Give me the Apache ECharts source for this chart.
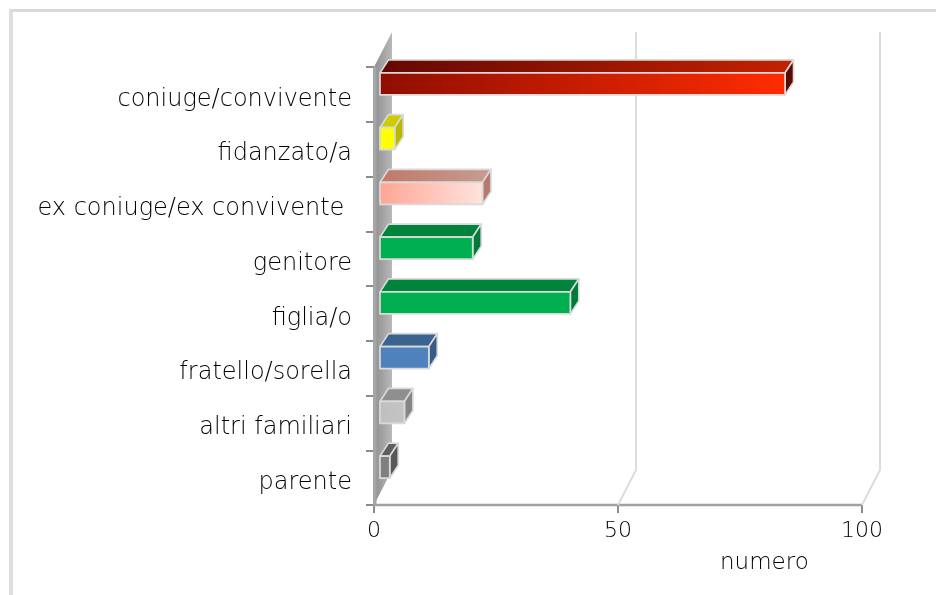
<!DOCTYPE html>
<html><head><meta charset="utf-8">
<style>
html,body{margin:0;padding:0;background:#fff;overflow:hidden}
#frame{position:absolute;left:9px;top:9px;width:927px;height:586px;box-sizing:border-box;border-left:4px solid #dedede;border-top:3px solid #d9d9d9}
#c{position:absolute;left:0;top:0;width:936px;height:595px}
</style></head><body>
<div id="frame"></div><div id="c"></div>
<script src="https://cdn.jsdelivr.net/npm/echarts@6/dist/echarts.min.js"></script>
<script>
const categories = ['coniuge/convivente','fidanzato/a','ex coniuge/ex convivente ','genitore','figlia/o','fratello/sorella','altri familiari','parente'];
const values = [83,3,21,19,39,10,5,2];
const frontStart = ['#8f0e00','#ffff00','#ffa594','#00b050','#00b050','#4f81bd','#bfbfbf','#7f7f7f'];
const frontEnd   = ['#ff2c00','#ffff00','#ffe3de','#00b050','#00b050','#4f81bd','#c4c4c4','#808080'];
const topStart   = ['#640800','#cccc00','#c07868','#00843c','#00843c','#3b6390','#8f8f8f','#5f5f5f'];
const topEnd     = ['#c42200','#cccc00','#c89c92','#00843c','#00843c','#3b6390','#8f8f8f','#5f5f5f'];
const sideColors = ['#5c0a00','#b8b800','#b47a6e','#007a38','#007a38','#365c88','#858585','#585858'];
const valueTicks = [0,50,100];
const axisTitle = 'numero';

const FONT = '"DejaVu Sans ExtraLight","DejaVu Sans Light","DejaVu Sans"';
const DEPTH_X = 18, DEPTH_Y = -35;   // wall depth
const BAR_X = 6, BAR_Y = -10.5;      // front face offset
const CAP_X = 8.5, CAP_Y = -13;      // bar depth
const BAR_H = 22;
const EDGE = {stroke:'#dadada', lineWidth:1.7, lineJoin:'round'};

const lin = (a,b) => new echarts.graphic.LinearGradient(0,0,1,0,[{offset:0,color:a},{offset:1,color:b}]);

function poly(points, fill, extra){
  return {type:'polygon', shape:{points}, style:Object.assign({fill}, extra||{})};
}

const chart = echarts.init(document.getElementById('c'), null, {renderer:'canvas'});
chart.setOption({
  animation:false,
  backgroundColor:'transparent',
  grid:{left:374, right:74, top:67, bottom:90, containLabel:false},
  xAxis:{type:'value', min:0, max:100, interval:50,
    axisLine:{show:false}, splitLine:{show:false},
    axisTick:{show:true, length:8, lineStyle:{color:'#8c8c8c', width:2}},
    axisLabel:{color:'#000', fontFamily:FONT, fontSize:22, fontWeight:200, margin:15, hideOverlap:false, showMinLabel:true, showMaxLabel:true}},
  yAxis:{type:'category', inverse:true, data:categories,
    axisLine:{show:false}, splitLine:{show:false},
    axisTick:{show:true, length:8, alignWithLabel:false, lineStyle:{color:'#8c8c8c', width:2}},
    axisLabel:{color:'#000', fontFamily:FONT, fontSize:24, fontWeight:200, margin:22, interval:0, verticalAlign:'top', lineHeight:10}},
  graphic:[{type:'text', left:720, top:552, silent:true,
    style:{text:axisTitle, fontFamily:FONT, fontSize:23, fontWeight:200, fill:'#000'}}],
  series:[
    { // side wall + floor line
      type:'custom', silent:true, z:1, data:[[0]],
      encode:{x:0},
      renderItem(p, api){
        const bottom = p.coordSys.y + p.coordSys.height;
        const top = p.coordSys.y;
        const x0 = p.coordSys.x;
        const xr = x0 + p.coordSys.width;
        return {type:'group', children:[
          poly([[x0,bottom],[x0+DEPTH_X,bottom+DEPTH_Y],[x0+DEPTH_X,top+DEPTH_Y],[x0,top]], new echarts.graphic.LinearGradient(0,0,1,0,[{offset:0,color:'#8f8f8f'},{offset:1,color:'#b8b8b8'}])),
          {type:'rect', shape:{x:x0-1,y:top,width:3.5,height:bottom-top}, style:{fill:'#a6a6a6'}},
          {type:'line', shape:{x1:x0-1,y1:bottom,x2:xr,y2:bottom}, style:{stroke:'#a0a0a0', lineWidth:2.5}}
        ]};
      }
    },
    { // grid lines on floor and back wall
      type:'custom', silent:true, z:1, data:valueTicks.slice(1).map(v=>[v]),
      encode:{x:0},
      renderItem(p, api){
        const x = api.coord([api.value(0), 0])[0];
        const bottom = p.coordSys.y + p.coordSys.height;
        const top = p.coordSys.y;
        return {type:'polyline', shape:{points:[[x,bottom],[x+DEPTH_X,bottom+DEPTH_Y],[x+DEPTH_X,top+DEPTH_Y]]},
          style:{fill:null, stroke:'#dcdcdc', lineWidth:2}};
      }
    },
    { // 3D bars
      type:'custom', z:3,
      data:values.map((v,i)=>[v,i]),
      encode:{x:0,y:1},
      renderItem(p, api){
        const i = api.value(1);
        const c = api.coord([api.value(0), i]);
        const c0 = api.coord([0, i]);
        const xl = c0[0]+BAR_X, xr = c[0]+BAR_X;
        const yc = c[1]+BAR_Y, yt = yc-BAR_H/2, yb = yc+BAR_H/2;
        return {type:'group', children:[
          poly([[xl,yt],[xr,yt],[xr+CAP_X,yt+CAP_Y],[xl+CAP_X,yt+CAP_Y]], lin(topStart[i],topEnd[i]), EDGE),
          poly([[xr,yt],[xr+CAP_X,yt+CAP_Y],[xr+CAP_X,yb+CAP_Y],[xr,yb]], sideColors[i], EDGE),
          {type:'rect', shape:{x:xl,y:yt,width:xr-xl,height:BAR_H}, style:Object.assign({fill:lin(frontStart[i],frontEnd[i])}, EDGE)}
        ]};
      }
    }
  ]
});
</script></body></html>
